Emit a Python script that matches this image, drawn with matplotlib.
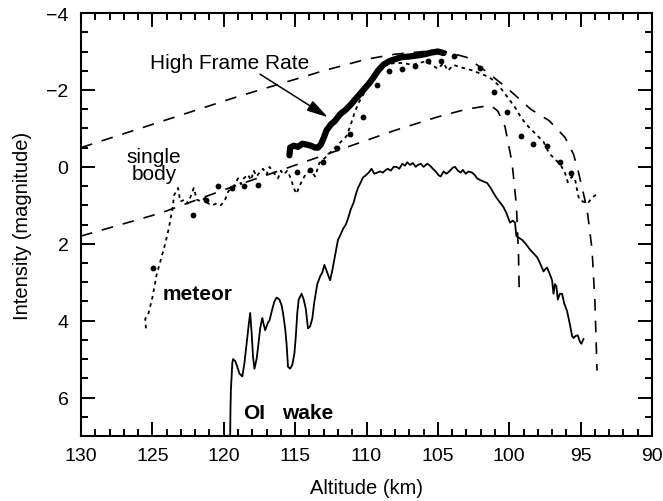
import numpy as np
import matplotlib
matplotlib.use("Agg")
import matplotlib.pyplot as plt
from matplotlib.ticker import MultipleLocator

plt.rcParams['font.family'] = ['Liberation Sans', 'DejaVu Sans']

# upper dashed model curve (altitude km, magnitude)
upper_alt = [130, 119, 113, 110, 108, 106, 104.5, 103, 101.5, 100, 98.5, 97.2, 96.1, 95.5, 95.2, 94.55, 94.2, 94.0, 93.85]
upper_mag = [-0.5, -1.83, -2.5, -2.8, -2.93, -3.0, -3.0, -2.85, -2.45, -2.0, -1.5, -1.2, -0.77, -0.33, 0.06, 1.1, 2.15, 3.5, 5.3]

# lower dashed model curve
lower_alt = [130, 124.4, 120, 113, 108, 105, 103, 101.3, 100.8, 100.3, 99.8, 99.5, 99.35, 99.3]
lower_mag = [1.8, 1.2, 0.6, -0.3, -0.95, -1.3, -1.5, -1.6, -1.45, -1.05, -0.1, 1.0, 2.3, 3.3]

# meteor light curve (dotted)
met_alt = [125.45, 125.5, 125.3, 125.0, 124.7, 124.4, 124.1, 123.85, 123.7, 123.55, 123.5, 123.2, 123.05,
           122.7, 122.5, 122.3, 122.1, 121.9, 121.6, 121.3, 121.1, 120.8, 120.5, 120.2, 119.9, 119.7,
           119.5, 119.3, 119.0, 118.8, 118.6, 118.3, 118.1, 117.9, 117.7, 117.5, 117.25, 117.0, 116.8,
           116.5, 116.2, 116.0, 115.8, 115.55, 115.3, 115.1, 114.9, 114.7, 114.5, 114.2, 113.9, 113.6,
           113.3, 113.0, 112.6, 112.2, 111.8, 111.4, 111.1, 110.8, 110.5, 110.2, 109.8, 109.4, 109.0,
           108.5, 108.0, 107.4, 106.8, 106.3, 105.8, 105.3, 105.0, 104.6, 104.3, 103.9, 103.5, 103.0,
           102.5, 102.0, 101.5, 101.1, 100.7, 100.4, 100.0, 99.6, 99.2, 98.8, 98.4, 98.0, 97.6, 97.2,
           96.8, 96.4, 96.1, 95.9, 95.6, 95.4, 95.25, 95.1, 94.85, 94.5, 94.2, 93.9]
met_mag = [4.2, 3.95, 3.85, 3.4, 2.8, 2.4, 2.0, 1.6, 1.3, 1.0, 0.75, 0.55, 0.9,
           0.85, 0.95, 0.75, 0.55, 0.85, 0.9, 0.8, 0.95, 1.0, 0.95, 1.0, 0.85, 0.65,
           0.55, 0.5, 0.3, 0.45, 0.3, 0.2, 0.35, 0.1, 0.25, 0.15, 0.05, 0.2, 0.0,
           0.15, 0.3, 0.1, 0.2, 0.1, 0.3, 0.55, 0.7, 0.5, 0.35, 0.15, 0.1, 0.25,
           -0.1, -0.2, -0.35, -0.5, -0.65, -0.8, -1.1, -1.45, -1.7, -1.9, -2.2, -2.45, -2.6,
           -2.67, -2.7, -2.7, -2.65, -2.7, -2.75, -2.62, -2.55, -2.7, -2.5, -2.65, -2.6, -2.55,
           -2.5, -2.42, -2.35, -2.25, -2.1, -1.95, -1.75, -1.55, -1.3, -1.1, -0.95, -0.8, -0.65, -0.35,
           -0.2, -0.05, 0.15, 0.4, 0.25, 0.3, 0.6, 0.85, 0.9, 0.95, 0.8, 0.72]

# meteor data points (large dots)
dot_alt = [124.95, 122.15, 121.25, 120.4, 119.45, 118.6, 117.6, 114.9, 113.95, 113.05, 112.1, 111.15,
           110.25, 109.25, 108.45, 107.5, 106.6, 105.7, 104.75, 103.85, 102.05, 101.1, 100.15, 99.2,
           98.35, 97.35, 96.45, 95.7]
dot_mag = [2.62, 1.24, 0.85, 0.5, 0.55, 0.5, 0.46, 0.13, 0.07, -0.12, -0.48, -0.85,
           -1.3, -2.12, -2.48, -2.55, -2.62, -2.75, -2.75, -2.88, -2.57, -1.95, -1.42, -0.8,
           -0.59, -0.53, -0.12, 0.15]

# high frame rate light curve (thick)
hfr_alt = [115.4, 115.35, 115.1, 114.8, 114.5, 114.2, 113.9, 113.6, 113.4, 113.2, 113.0, 112.8, 112.5,
           112.2, 111.85, 111.5, 111.1, 110.8, 110.45, 110.1, 109.8, 109.5, 109.2, 108.8, 108.4, 108.0,
           107.6, 107.0, 106.4, 105.9, 105.5, 105.0, 104.6]
hfr_mag = [-0.3, -0.5, -0.55, -0.52, -0.6, -0.58, -0.55, -0.5, -0.5, -0.58, -0.75, -0.95, -1.1,
           -1.2, -1.37, -1.47, -1.62, -1.75, -1.9, -2.05, -2.18, -2.33, -2.5, -2.66, -2.75, -2.8,
           -2.85, -2.87, -2.9, -2.93, -2.97, -3.0, -2.96]

# OI wake emission
oi_alt = [119.55, 119.53, 119.5, 119.4, 119.35, 119.2, 119.05, 118.9, 118.7, 118.55, 118.4, 118.25, 118.15,
          118.05, 117.95, 117.85, 117.7, 117.6, 117.45, 117.3, 117.2, 117.1, 117.0, 116.9, 116.8, 116.6,
          116.45, 116.3, 116.1, 115.95, 115.85, 115.7, 115.6, 115.5, 115.35, 115.2, 115.05, 114.95, 114.85,
          114.75, 114.55, 114.4, 114.25, 114.1, 113.95, 113.8, 113.65, 113.45, 113.25, 113.1, 112.95, 112.75,
          112.55, 112.4, 112.2, 112.0, 111.8, 111.65, 111.45, 111.3, 111.1, 110.9, 110.75, 110.6, 110.4,
          110.25, 110.05, 109.85, 109.65, 109.45, 109.25, 109.05, 108.85, 108.65, 108.5, 108.3, 108.1, 107.9,
          107.7, 107.5, 107.3, 107.15, 106.95, 106.75, 106.55, 106.4, 106.2, 106.0, 105.75, 105.55, 105.35,
          105.15, 104.95, 104.8, 104.6, 104.4, 104.15, 103.95, 103.8, 103.6, 103.4, 103.25, 103.05, 102.85,
          102.6, 102.4, 102.25, 102.0, 101.8, 101.55, 101.3, 101.1, 100.9, 100.6, 100.4, 100.2, 99.95,
          99.75, 99.6, 99.5, 99.3, 99.1, 98.85, 98.55, 98.3, 98.05, 97.85, 97.6, 97.45, 97.35, 97.15,
          97.0, 96.9, 96.8, 96.7, 96.6, 96.45, 96.3, 96.15, 95.95, 95.75, 95.6, 95.5, 95.35, 95.2,
          95.05, 94.95, 94.8]
oi_mag = [7.0, 6.3, 5.8, 5.1, 5.0, 5.05, 5.2, 5.38, 5.45, 5.1, 4.6, 4.1, 3.8,
          4.3, 4.94, 5.25, 5.0, 4.7, 4.2, 3.93, 4.1, 4.25, 4.15, 4.05, 4.0, 3.7,
          3.5, 3.4, 3.45, 3.6, 3.8, 4.2, 4.6, 5.2, 5.25, 5.15, 4.85, 4.4, 3.8,
          3.45, 3.3, 3.45, 3.7, 4.2, 4.15, 3.95, 3.5, 3.05, 2.85, 2.75, 2.55, 2.75,
          2.95, 2.7, 2.3, 1.9, 1.75, 1.62, 1.5, 1.35, 1.1, 0.93, 0.72, 0.55, 0.4,
          0.28, 0.22, 0.15, 0.05, 0.18, 0.15, 0.12, 0.15, 0.08, 0.05, 0.1, 0.0, 0.0,
          0.05, -0.08, -0.03, -0.12, -0.05, -0.1, 0.0, -0.05, -0.08, 0.0, -0.08, -0.03, 0.05,
          0.12, 0.22, 0.25, 0.12, 0.18, 0.1, 0.02, 0.0, 0.1, 0.15, 0.08, 0.18, 0.12,
          0.15, 0.22, 0.3, 0.35, 0.38, 0.42, 0.55, 0.68, 0.8, 0.95, 1.05, 1.2, 1.45,
          1.4, 1.45, 1.8, 1.85, 1.9, 2.0, 2.15, 2.25, 2.35, 2.5, 2.72, 2.65, 2.62, 2.8,
          2.95, 3.3, 3.05, 3.1, 3.45, 3.3, 3.3, 3.55, 3.75, 4.1, 4.4, 4.45, 4.4, 4.38,
          4.55, 4.6, 4.48]

fig = plt.figure(figsize=(6.63, 5.02), dpi=100)
ax = fig.add_axes([0.1222, 0.1295, 0.8612, 0.8425])

ax.plot(upper_alt, upper_mag, color='black', lw=1.2, dashes=[7, 6])
ax.plot(lower_alt, lower_mag, color='black', lw=1.2, dashes=[7, 6])
ax.plot(met_alt, met_mag, color='black', lw=1.3, dashes=[2, 2.2])
ax.plot(dot_alt, dot_mag, 'o', color='black', ms=4.2, mec='none')
ax.plot(hfr_alt, hfr_mag, color='black', lw=4.5, solid_capstyle='round')
ax.plot(oi_alt, oi_mag, color='black', lw=1.3)

# labels on the plot
ax.text(119.56, -2.57, 'High Frame Rate', fontsize=15, ha='center', va='baseline')
ax.annotate('', xy=(112.7, -1.29), xytext=(117.46, -2.41),
            arrowprops=dict(arrowstyle='-|>,head_length=1.3,head_width=0.35',
                            color='black', lw=1.1, shrinkA=0, shrinkB=0))
ax.text(124.9, -0.13, 'single', fontsize=15, ha='center', va='baseline')
ax.text(124.9, 0.32, 'body', fontsize=15, ha='center', va='baseline')
ax.text(124.26, 3.43, 'meteor', fontsize=15, fontweight='bold', ha='left', va='baseline')
ax.text(118.65, 6.54, 'OI', fontsize=15, fontweight='bold', ha='left', va='baseline')
ax.text(115.9, 6.54, 'wake', fontsize=15, fontweight='bold', ha='left', va='baseline')

ax.set_xlim(130, 90)
ax.set_ylim(7, -4)
ax.xaxis.set_major_locator(MultipleLocator(5))
ax.xaxis.set_minor_locator(MultipleLocator(1))
ax.yaxis.set_major_locator(MultipleLocator(2))
ax.yaxis.set_minor_locator(MultipleLocator(0.5))
ax.tick_params(which='both', direction='in', top=True, right=True, color='black', width=1.4, labelsize=14)
ax.tick_params(which='major', length=10)
ax.tick_params(which='minor', length=5)
ax.tick_params(axis='x', which='major', pad=8)
ax.tick_params(axis='y', which='major', pad=9)
for sp in ax.spines.values():
    sp.set_linewidth(1.5)

ax.set_xlabel('Altitude (km)', fontsize=14.5, labelpad=10)
ax.set_ylabel('Intensity (magnitude)', fontsize=14.5, labelpad=10)

fig.savefig('out.png', dpi=100)
